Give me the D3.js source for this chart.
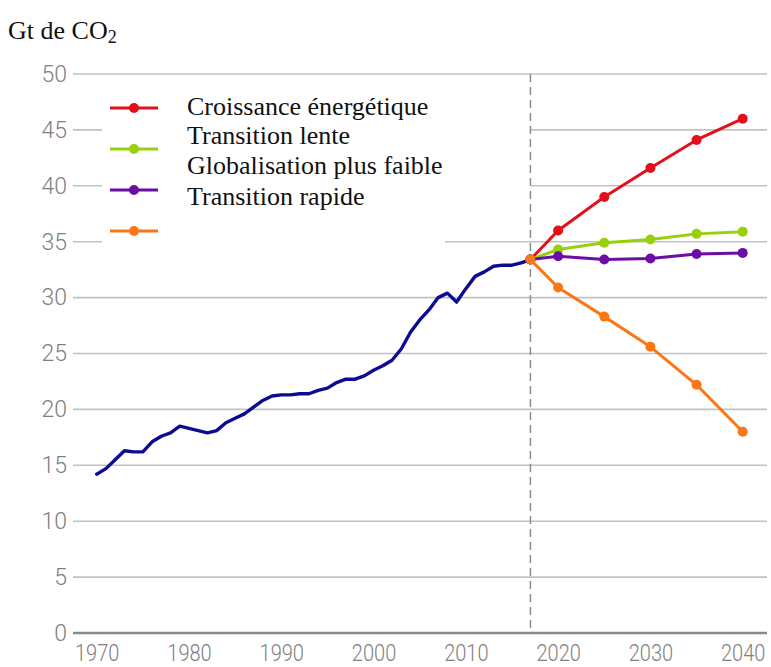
<!DOCTYPE html>
<html>
<head>
<meta charset="utf-8">
<script src="https://cdn.jsdelivr.net/npm/d3@7/dist/d3.min.js"></script>
<style>
  html, body { margin: 0; padding: 0; background: #fff; }
  svg { display: block; }
</style>
</head>
<body>
<svg id="chart" width="771" height="667"></svg>
<script>
// ---------------- DATA ----------------
const histYears = d3.range(1970, 2018);
const histValues = [
  14.2, 14.7, 15.5, 16.3, 16.2, 16.2, 17.1, 17.6, 17.9, 18.5,
  18.3, 18.1, 17.9, 18.1, 18.8, 19.2, 19.6, 20.2, 20.8, 21.2,
  21.3, 21.3, 21.4, 21.4, 21.7, 21.9, 22.4, 22.7, 22.7, 23.0,
  23.5, 23.9, 24.4, 25.4, 26.9, 28.0, 28.9, 30.0, 30.4, 29.6,
  30.8, 31.9, 32.3, 32.8, 32.9, 32.9, 33.1, 33.4
];
const scenarioYears = [2017, 2020, 2025, 2030, 2035, 2040];
const croissance   = [33.4, 36.0, 39.0, 41.6, 44.1, 46.0];
const lente        = [33.4, 34.3, 34.9, 35.2, 35.7, 35.9];
const globalisation= [33.4, 33.7, 33.4, 33.5, 33.9, 34.0];
const rapide       = [33.4, 30.9, 28.3, 25.6, 22.2, 18.0];
const legendLabels = ["Croissance énergétique", "Transition lente", "Globalisation plus faible", "Transition rapide"];
const yTicks = [0, 5, 10, 15, 20, 25, 30, 35, 40, 45, 50];
const xTicks = [1970, 1980, 1990, 2000, 2010, 2020, 2030, 2040];
const dividerYear = 2017;
const unitLabel = "Gt de CO";

// ---------------- LAYOUT ----------------
const svg = d3.select("#chart");
const x = d3.scaleLinear().domain([1970, 2040]).range([96.7, 742.7]);
const y = d3.scaleLinear().domain([0, 50]).range([633, 74]);
const gridLeft = 73, gridRight = 767;

const colors = {
  hist: "#0c0c92",
  series: ["#e3101a", "#96d10a", "#6a0ea6", "#fb7615"]
};
const seriesData = [croissance, lente, globalisation, rapide];

// title
const title = svg.append("text")
  .attr("x", 8).attr("y", 38.5)
  .attr("font-family", "'Liberation Serif', 'Times New Roman', serif")
  .attr("font-size", 26).attr("fill", "#111");
title.append("tspan").text(unitLabel);
title.append("tspan").text("2").attr("font-size", 18).attr("dy", 4);

// gridlines
const grid = svg.append("g");
grid.selectAll("line").data(yTicks.filter(d => d !== 0)).join("line")
  .attr("x1", gridLeft).attr("x2", gridRight)
  .attr("y1", d => y(d)).attr("y2", d => y(d))
  .attr("stroke", "#c2c2c2").attr("stroke-width", 1.6);

// y axis labels
const yAxis = svg.append("g").attr("transform", `translate(${gridLeft},0)`)
  .call(d3.axisLeft(y).tickValues(yTicks).tickSize(0).tickPadding(6));
yAxis.select(".domain").remove();
yAxis.selectAll("text")
  .attr("font-family", "Roboto, sans-serif").attr("font-weight", 300)
  .attr("font-size", 23).attr("fill", "#808080");

// x axis
const xAxis = svg.append("g").attr("transform", `translate(0,${y(0)})`)
  .call(d3.axisBottom(x).tickValues(xTicks).tickFormat(d3.format("d")).tickSize(0).tickPadding(12));
xAxis.select(".domain").remove();
xAxis.selectAll("text")
  .attr("font-family", "Roboto, sans-serif").attr("font-weight", 300)
  .attr("font-size", 23).attr("fill", "#808080")
  .attr("transform", "scale(0.87,1)");
svg.append("line")
  .attr("x1", gridLeft).attr("x2", gridRight)
  .attr("y1", y(0)).attr("y2", y(0))
  .attr("stroke", "#8a8a8a").attr("stroke-width", 2.5);

// legend background boxes (mask gridlines)
svg.append("rect").attr("x", 102).attr("y", 86).attr("width", 429).attr("height", 114).attr("fill", "#fff");
svg.append("rect").attr("x", 102).attr("y", 199).attr("width", 343).attr("height", 50).attr("fill", "#fff");

// divider
svg.append("line")
  .attr("x1", x(dividerYear)).attr("x2", x(dividerYear))
  .attr("y1", y(50)).attr("y2", y(0))
  .attr("stroke", "#8c8c8c").attr("stroke-width", 1.5)
  .attr("stroke-dasharray", "8,5");

// historical line
const histPts = histYears.map((yr, i) => [yr, histValues[i]]);
svg.append("path")
  .datum(histPts)
  .attr("d", d3.line().x(d => x(d[0])).y(d => y(d[1])))
  .attr("fill", "none").attr("stroke", colors.hist)
  .attr("stroke-width", 3.4).attr("stroke-linejoin", "round").attr("stroke-linecap", "round");

// scenarios
const line = d3.line().x(d => x(d[0])).y(d => y(d[1]));
seriesData.forEach((vals, i) => {
  const pts = scenarioYears.map((yr, j) => [yr, vals[j]]);
  const g = svg.append("g");
  g.append("path").datum(pts).attr("d", line)
    .attr("fill", "none").attr("stroke", colors.series[i])
    .attr("stroke-width", 3).attr("stroke-linejoin", "round");
  g.selectAll("circle").data(pts).join("circle")
    .attr("cx", d => x(d[0])).attr("cy", d => y(d[1]))
    .attr("r", 5).attr("fill", colors.series[i]);
});

// legend
const legend = svg.append("g");
colors.series.forEach((c, i) => {
  const ly = 108 + i * 41;
  legend.append("line").attr("x1", 110).attr("x2", 158).attr("y1", ly).attr("y2", ly)
    .attr("stroke", c).attr("stroke-width", 3);
  legend.append("circle").attr("cx", 134).attr("cy", ly).attr("r", 5).attr("fill", c);
});
legendLabels.forEach((t, i) => {
  legend.append("text")
    .attr("x", 187).attr("y", [115, 144, 174, 205][i])
    .attr("font-family", "'Liberation Serif', 'Times New Roman', serif")
    .attr("font-size", 26).attr("fill", "#111")
    .text(t);
});
</script>
</body>
</html>
